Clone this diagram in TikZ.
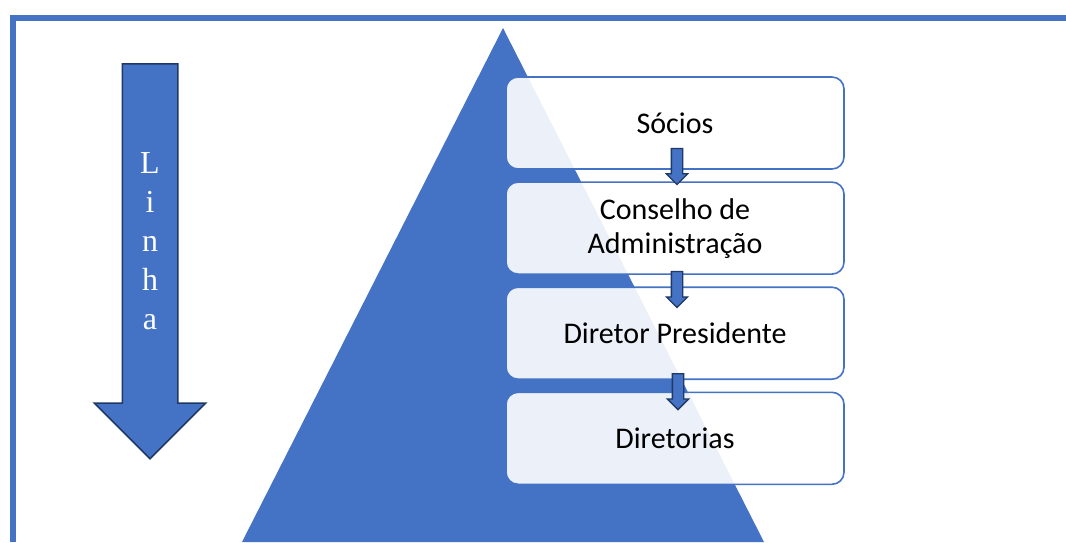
\documentclass[tikz,border=0pt]{standalone}
\usepackage{fontspec}
\setmainfont{Carlito}
\newfontfamily\linhafont{Liberation Serif}
\usepackage{xcolor}
\usepackage{tikz}
\usetikzlibrary{arrows.meta,positioning,calc,shapes.arrows}

\definecolor{pyrblue}{HTML}{4472C4}
\definecolor{arrowedge}{HTML}{1F3864}

\begin{document}
\begin{tikzpicture}[
    x=1pt, y=-1pt,
    level/.style={rectangle, draw=pyrblue, line width=1.6pt, rounded corners=12pt,
                  fill=white, fill opacity=0.9, text opacity=1,
                  minimum width=338pt, minimum height=92pt,
                  align=center, font=\fontsize{30}{34}\selectfont},
    bigarrow/.style={single arrow, draw=arrowedge, fill=pyrblue, line width=1.5pt,
                     shape border rotate=270, inner sep=27pt, minimum width=0pt,
                     single arrow head extend=28pt, single arrow tip angle=90,
                     minimum height=395pt},
    stepdown/.style={single arrow, draw=arrowedge, fill=pyrblue, line width=1.3pt,
                     shape border rotate=270, inner sep=5pt, minimum width=0pt,
                     single arrow head extend=5pt, single arrow tip angle=90,
                     minimum height=36pt, anchor=tail},
    node distance=11.5pt
]
\useasboundingbox (0,0) rectangle (1066,542);

% frame
\fill[pyrblue] (10,15) rectangle (1066,21);
\fill[pyrblue] (10,15) rectangle (16,542);

% pyramid
\fill[pyrblue] (503,28) -- (764,542) -- (242,542) -- cycle;

% levels
\node[level] (socios) at (675,123) {Sócios};
\node[level, below=of socios] (conselho) {Conselho de\\Administração};
\node[level, below=of conselho] (presidente) {Diretor Presidente};
\node[level, below=of presidente] (diretorias) {Diretorias};

% linha
\node[bigarrow, anchor=tail] (linha) at (150,63) {};
\node[text=white, align=center, inner sep=0pt,
      font=\linhafont\fontsize{32}{39}\selectfont] (linhatxt) at (150,241) {L\\i\\n\\h\\a};

% steps
\node[stepdown] (s1) at ($(socios.south)+(2,-22)$) {};
\node[stepdown] (s2) at ($(conselho.south)+(2,-4)$) {};
\node[stepdown] (s3) at ($(presidente.south)+(3,-7)$) {};

\end{tikzpicture}
\end{document}
